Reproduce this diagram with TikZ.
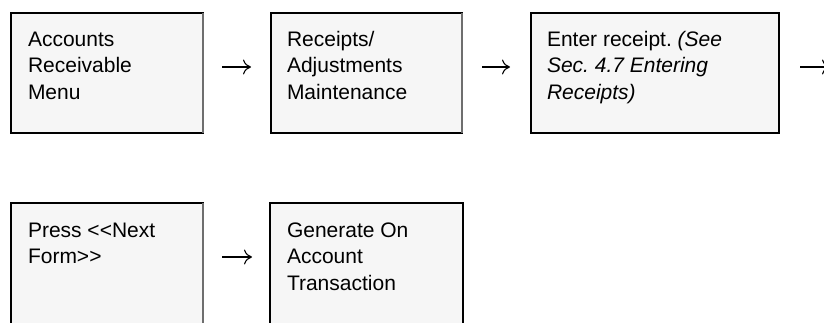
\documentclass[tikz,border=0pt]{standalone}
\usepackage{fontspec}
\setmainfont{Liberation Sans}
\usetikzlibrary{arrows.meta,calc}
\definecolor{boxfill}{HTML}{F6F6F6}
\definecolor{edgegray}{HTML}{6E6E6E}
\frenchspacing
\begin{document}
\begin{tikzpicture}[x=1pt,y=1pt,
  stepbox/.style={draw=black,fill=boxfill,line width=1.2pt,inner sep=0pt,outer sep=0pt,
    anchor=north west,minimum height=120pt},
  boxtext/.style={anchor=north west,inner sep=0pt,outer sep=0pt,align=left,
    font=\fontsize{21}{26.5}\selectfont},
  flow/.style={line width=1.1pt,-{Computer Modern Rightarrow[length=8pt,width=15pt]}},
  bottomedge/.style={line width=2.6pt,line cap=rect},
  sideedge/.style={edgegray,line width=1.2pt},
  lastedge/.style={black,line width=2.6pt}
]
\useasboundingbox (0,0) rectangle (824,322);
\clip (0,0) rectangle (824,322);

% first row of steps
\node[stepbox,minimum width=192pt] (menu) at (11,309) {};
\node[stepbox,minimum width=191pt] (maint) at (271,309) {};
\node[stepbox,minimum width=248pt] (enter) at (531,309) {};
% second row (runs past the lower edge)
\node[stepbox,minimum width=192pt,minimum height=130pt] (press) at (11,119) {};
\node[stepbox,minimum width=193pt,minimum height=130pt] (gen) at (270,119) {};

% heavier lower and outer edges, lighter inner right edges
\foreach \b in {menu,maint,enter}
  \draw[bottomedge] (\b.south west) -- (\b.south east);
\foreach \b in {menu,maint,press}
  \draw[sideedge] (\b.north east) -- (\b.south east);
\foreach \b in {enter,gen}
  \draw[lastedge] (\b.north east) -- (\b.south east);

% box texts
\node[boxtext] (menutxt) at ($(menu.north west)+(17,-14.5)$)
  {\strut Accounts\\Receivable\\Menu};
\node[boxtext] (mainttxt) at ($(maint.north west)+(16,-14.5)$)
  {\strut Receipts/\\Adjustments\\Maintenance};
\node[boxtext] (entertxt) at ($(enter.north west)+(16,-14.5)$)
  {\strut Enter receipt. \textit{(See}\\\textit{Sec. 4.7 Entering}\\\textit{Receipts)}};
\node[boxtext] (presstxt) at ($(press.north west)+(17,-15.5)$)
  {\strut Press <{}<Next\\Form>{}>};
\node[boxtext] (gentxt) at ($(gen.north west)+(17,-15.5)$)
  {\strut Generate On\\Account\\Transaction};

% flow arrows between the steps
\draw[flow] ($(menu.north east)+(19,-54)$) -- ($(maint.north west)+(-20,-54)$);
\draw[flow] ($(maint.north east)+(20,-54)$) -- ($(enter.north west)+(-21,-54)$);
\coordinate (onward) at ($(enter.north east)+(51,-54)$);
\draw[flow] ($(enter.north east)+(21,-54)$) -- (onward);
\draw[flow] ($(press.north east)+(19,-54)$) -- ($(gen.north west)+(-18,-54)$);
\end{tikzpicture}
\end{document}
